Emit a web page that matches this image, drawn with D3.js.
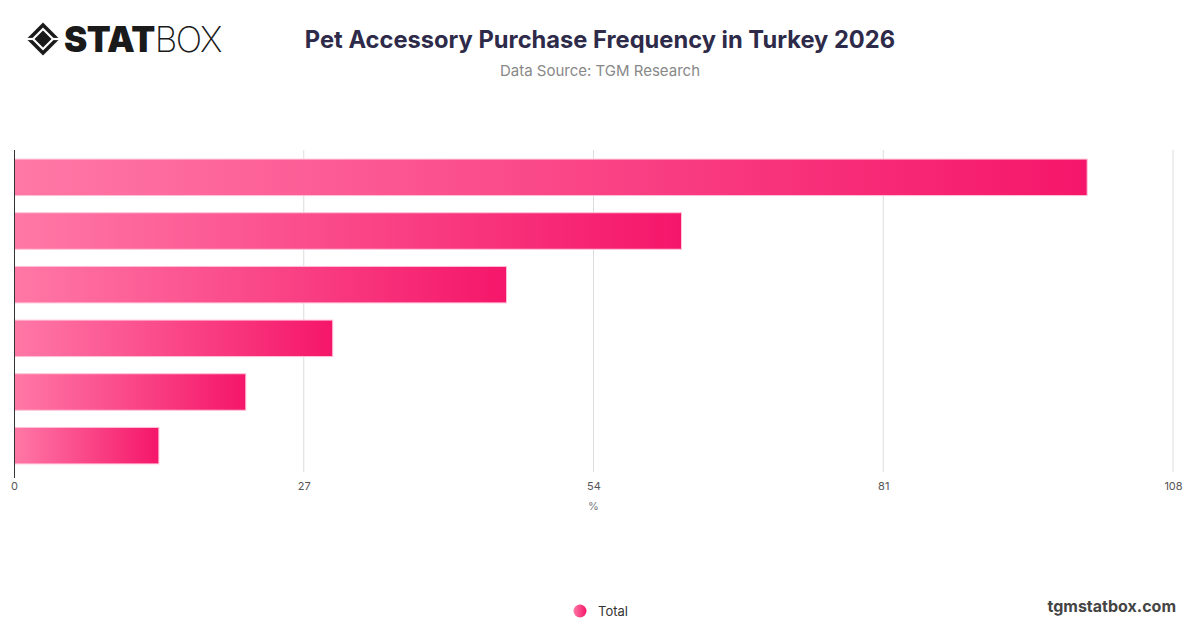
<!DOCTYPE html>
<html>
<head>
<meta charset="utf-8">
<script src="https://cdn.jsdelivr.net/npm/d3@7"></script>
<style>
  body { margin: 0; background: #fff; }
  svg { display: block; font-family: Inter, "Noto Sans", sans-serif; }
</style>
</head>
<body>
<div id="chart"></div>
<script>
// chart data
var categories = ["Monthly", "Every 2-3 months", "Every 6 months", "Once a year", "Less often", "Never"];
var totals = [100, 62.2, 45.9, 29.7, 21.6, 13.5];
var xTicks = [0, 27, 54, 81, 108];
var seriesName = "Total";

var W = 1200, H = 628;
var margin = {top: 150, right: 27, bottom: 156, left: 14},
    width = W - margin.left - margin.right,
    height = H - margin.top - margin.bottom;

var root = d3.select("#chart")
  .append("svg")
    .attr("width", W)
    .attr("height", H);

var defs = root.append("defs");
var grad = defs.append("linearGradient")
  .attr("id", "barGrad")
  .attr("x1", "0%").attr("x2", "100%")
  .attr("y1", "0%").attr("y2", "0%");
grad.append("stop").attr("offset", "0%").attr("stop-color", "#ff78a6");
grad.append("stop").attr("offset", "100%").attr("stop-color", "#f5166a");

var legGrad = defs.append("linearGradient")
  .attr("id", "legGrad")
  .attr("x1", "0%").attr("x2", "100%");
legGrad.append("stop").attr("offset", "0%").attr("stop-color", "#ff78a6");
legGrad.append("stop").attr("offset", "100%").attr("stop-color", "#f5166a");

// logo
var logo = root.append("g").attr("transform", "translate(43,39)");
function diamond(r) { return "M0," + (-r) + "L" + r + ",0L0," + r + "L" + (-r) + ",0Z"; }
logo.append("path").attr("d", diamond(16.5)).attr("fill", "#1a1a1a");
logo.append("path").attr("d", diamond(11.5)).attr("fill", "#fff");
logo.append("path").attr("d", diamond(8.5)).attr("fill", "#1a1a1a");
logo.append("line").attr("x1", -17).attr("x2", -9).attr("y1", 0).attr("y2", 0)
  .attr("stroke", "#fff").attr("stroke-width", 2.2);
logo.append("line").attr("x1", 9).attr("x2", 17).attr("y1", 0).attr("y2", 0)
  .attr("stroke", "#fff").attr("stroke-width", 2.2);

var logoText = root.append("text")
  .attr("x", 64).attr("y", 52)
  .attr("font-size", 35)
  .attr("fill", "#1a1a1a");
logoText.append("tspan").attr("font-weight", 900).attr("letter-spacing", "-0.5").text("STAT");
logoText.append("tspan").attr("font-weight", 200).attr("letter-spacing", "-1.5").text("BOX");

// title
root.append("text")
  .attr("x", 600).attr("y", 48)
  .attr("text-anchor", "middle")
  .attr("font-size", 23.7)
  .attr("font-weight", 700)
  .attr("fill", "#2e2b4a")
  .text("Pet Accessory Purchase Frequency in Turkey 2026");

root.append("text")
  .attr("x", 600).attr("y", 76)
  .attr("text-anchor", "middle")
  .attr("font-size", 15)
  .attr("fill", "#888")
  .text("Data Source: TGM Research");

var svg = root.append("g")
  .attr("transform", "translate(" + margin.left + "," + margin.top + ")");

var x = d3.scaleLinear()
  .domain([0, 108])
  .range([0, width]);

var y = d3.scaleBand()
  .domain(categories)
  .range([0, height])
  .paddingInner(0.32)
  .paddingOuter(0.16);

// gridlines
svg.append("g")
  .selectAll("line")
  .data(xTicks.slice(1))
  .enter()
  .append("line")
    .attr("x1", function (d) { return x(d); })
    .attr("x2", function (d) { return x(d); })
    .attr("y1", 0)
    .attr("y2", height)
    .attr("stroke", "#dcdcdc")
    .attr("stroke-width", 1);

// x axis
var xAxis = svg.append("g")
  .attr("transform", "translate(0," + height + ")")
  .call(d3.axisBottom(x).tickValues(xTicks).tickSize(0).tickPadding(10));
xAxis.select(".domain").remove();
xAxis.selectAll("text")
  .attr("font-family", "Inter, 'Noto Sans', sans-serif")
  .attr("font-size", 11)
  .attr("fill", "#555");

svg.append("text")
  .attr("x", width / 2)
  .attr("y", height + 38)
  .attr("text-anchor", "middle")
  .attr("font-size", 11)
  .attr("fill", "#777")
  .text("%");

// bars
svg.append("g")
  .selectAll("rect")
  .data(totals)
  .enter()
  .append("rect")
    .attr("x", x(0) + 0.5)
    .attr("y", function (d, i) { return y(categories[i]) + 0.5; })
    .attr("width", function (d) { return x(d) - x(0) - 0.5; })
    .attr("height", y.bandwidth())
    .attr("fill", "url(#barGrad)")
    .attr("stroke", "#ffc2d8")
    .attr("stroke-width", 1);

// y axis line
svg.append("line")
  .attr("x1", 0.5).attr("x2", 0.5)
  .attr("y1", 0).attr("y2", height + 6)
  .attr("stroke", "#333")
  .attr("stroke-width", 1);

// legend
root.append("circle")
  .attr("cx", 580).attr("cy", 611)
  .attr("r", 6.5)
  .attr("fill", "url(#legGrad)");
root.append("text")
  .attr("x", 598).attr("y", 615.5)
  .attr("font-size", 13)
  .attr("fill", "#333")
  .text(seriesName);

root.append("text")
  .attr("x", 1176).attr("y", 612)
  .attr("text-anchor", "end")
  .attr("font-size", 16)
  .attr("font-weight", 700)
  .attr("fill", "#444")
  .text("tgmstatbox.com");
</script>
</body>
</html>
